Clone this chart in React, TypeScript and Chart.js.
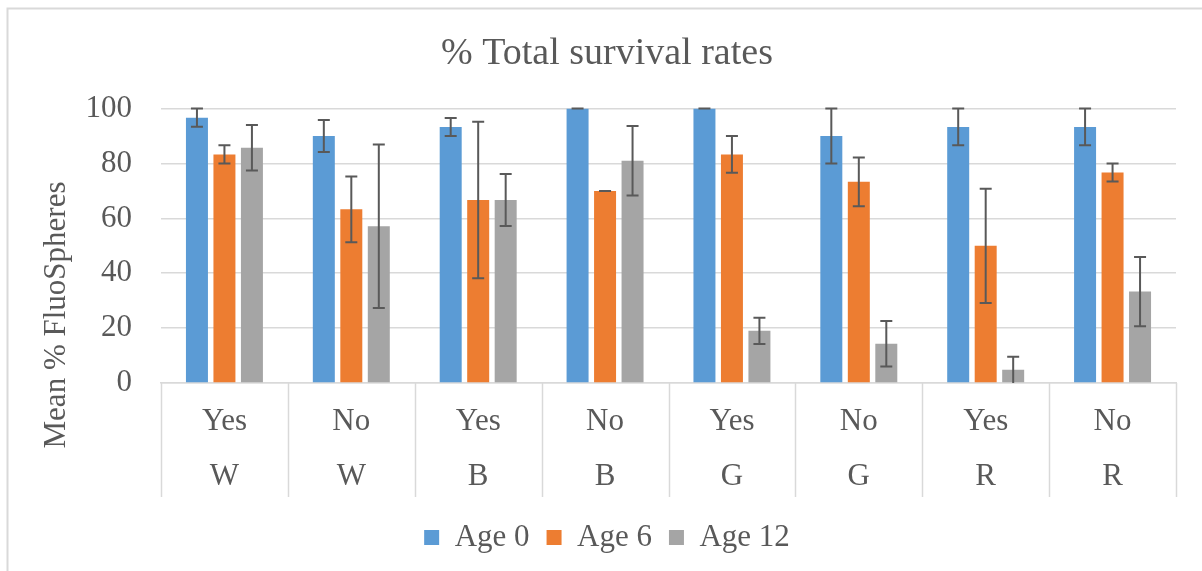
import React, { useEffect, useRef } from "react";
import { Chart, registerables } from "chart.js";

Chart.register(...registerables);

const treatments = ["Yes", "No", "Yes", "No", "Yes", "No", "Yes", "No"];
const colorsGroup = ["W", "W", "B", "B", "G", "G", "R", "R"];
const seriesNames = ["Age 0", "Age 6", "Age 12"];

const age0 = [96.7, 90, 93.3, 100, 100, 90, 93.3, 93.3];
const age6 = [83.3, 63.3, 66.7, 70, 83.3, 73.3, 50, 76.7];
const age12 = [85.7, 57.1, 66.7, 81, 19, 14.3, 4.8, 33.3];

const err0 = [3.3, 5.8, 3.3, 0, 0, 10, 6.7, 6.7];
const err6 = [3.3, 12, 28.5, 0, 6.7, 8.9, 20.8, 3.3];
const err12 = [8.3, 29.8, 9.5, 12.7, 4.8, 8.3, 4.8, 12.6];

const yTicks = [0, 20, 40, 60, 80, 100];

const seriesColors = ["#5B9BD5", "#ED7D31", "#A5A5A5"];
const FONT = "'Liberation Serif', 'Times New Roman', serif";
const TEXT = "#595959";
const LINE = "#D9D9D9";

const errors = [err0, err6, err12];

const errorBarPlugin = {
  id: "errorBars",
  afterDatasetsDraw(chart: any) {
    const ctx = chart.ctx;
    const y = chart.scales.y;
    ctx.save();
    ctx.strokeStyle = "#595959";
    ctx.lineWidth = 2;
    chart.data.datasets.forEach((ds: any, i: number) => {
      const meta = chart.getDatasetMeta(i);
      meta.data.forEach((bar: any, j: number) => {
        const v = ds.data[j];
        const e = errors[i][j];
        const top = y.getPixelForValue(v + e);
        const bot = y.getPixelForValue(Math.max(0, v - e));
        const x = bar.x;
        const cap = 6;
        ctx.beginPath();
        ctx.moveTo(x, top);
        ctx.lineTo(x, bot);
        ctx.moveTo(x - cap, top);
        ctx.lineTo(x + cap, top);
        if (v - e > 0) {
          ctx.moveTo(x - cap, bot);
          ctx.lineTo(x + cap, bot);
        }
        ctx.stroke();
      });
    });
    ctx.restore();
  },
};

const decorPlugin = {
  id: "decor",
  beforeDraw(chart: any) {
    const ctx = chart.ctx;
    ctx.save();
    ctx.fillStyle = "#ffffff";
    ctx.fillRect(0, 0, chart.width, chart.height);
    ctx.strokeStyle = LINE;
    ctx.lineWidth = 2;
    ctx.beginPath();
    ctx.moveTo(7.5, chart.height);
    ctx.lineTo(7.5, 8.5);
    ctx.lineTo(chart.width, 8.5);
    ctx.stroke();
    ctx.restore();
  },
  afterDraw(chart: any) {
    const ctx = chart.ctx;
    const xs = chart.scales.x;
    const area = chart.chartArea;
    ctx.save();
    ctx.strokeStyle = LINE;
    ctx.lineWidth = 1.5;
    const n = treatments.length;
    const w = (area.right - area.left) / n;
    ctx.beginPath();
    for (let i = 0; i <= n; i++) {
      const px = Math.round(xs.left + i * w) + 0.5;
      ctx.moveTo(px, area.bottom);
      ctx.lineTo(px, area.bottom + 114);
    }
    ctx.stroke();
    // y axis title
    ctx.fillStyle = TEXT;
    ctx.font = `31px ${FONT}`;
    ctx.textAlign = "center";
    ctx.textBaseline = "middle";
    ctx.translate(57, 315);
    ctx.rotate(-Math.PI / 2);
    ctx.fillText("Mean % FluoSpheres", 0, 0);
    ctx.restore();
  },
};

export default function App() {
  const ref = useRef<HTMLCanvasElement | null>(null);
  useEffect(() => {
    document.body.style.margin = "0";
    const canvas = ref.current!;
    const chart = new Chart(canvas, {
      type: "bar",
      data: {
        labels: treatments.map((t, i) => [t, colorsGroup[i]]),
        datasets: [age0, age6, age12].map((d, i) => ({
          label: seriesNames[i],
          data: d,
          backgroundColor: seriesColors[i],
          borderWidth: 0,
          categoryPercentage: 0.65,
          barPercentage: 0.8,
        })),
      },
      options: {
        responsive: false,
        animation: false,
        devicePixelRatio: 1,
        layout: { padding: { left: 38, right: 26, top: 0, bottom: 8 } },
        plugins: {
          title: {
            display: true,
            text: "% Total survival rates",
            color: TEXT,
            font: { family: FONT, size: 38, weight: "normal" },
            padding: { top: 31, bottom: 32 },
          },
          legend: {
            position: "bottom",
            labels: {
              color: TEXT,
              font: { family: FONT, size: 31 },
              boxWidth: 15,
              boxHeight: 15,
              padding: 17,
            },
          },
          tooltip: { enabled: false },
        },
        scales: {
          x: {
            grid: { display: false, drawTicks: false },
            border: { display: true, color: LINE, width: 1.5 },
            ticks: {
              color: TEXT,
              font: { family: FONT, size: 31, lineHeight: 55 / 31 },
              padding: 11,
              maxRotation: 0,
              autoSkip: false,
            },
            afterFit(scale: any) {
              scale.height = 122;
            },
          },
          y: {
            min: 0,
            max: 100,
            afterBuildTicks(scale: any) {
              scale.ticks = yTicks.map((v) => ({ value: v }));
            },
            grid: { color: LINE, lineWidth: 1.5, drawTicks: false },
            border: { display: false },
            ticks: {
              color: TEXT,
              font: { family: FONT, size: 31 },
              padding: 29,
            },
            afterFit(scale: any) {
              scale.width = 123;
            },
          },
        },
      },
      plugins: [decorPlugin, errorBarPlugin],
    } as any);
    return () => chart.destroy();
  }, []);
  return (
    <canvas
      ref={ref}
      width={1202}
      height={571}
      style={{ display: "block", width: 1202, height: 571 }}
    />
  );
}
